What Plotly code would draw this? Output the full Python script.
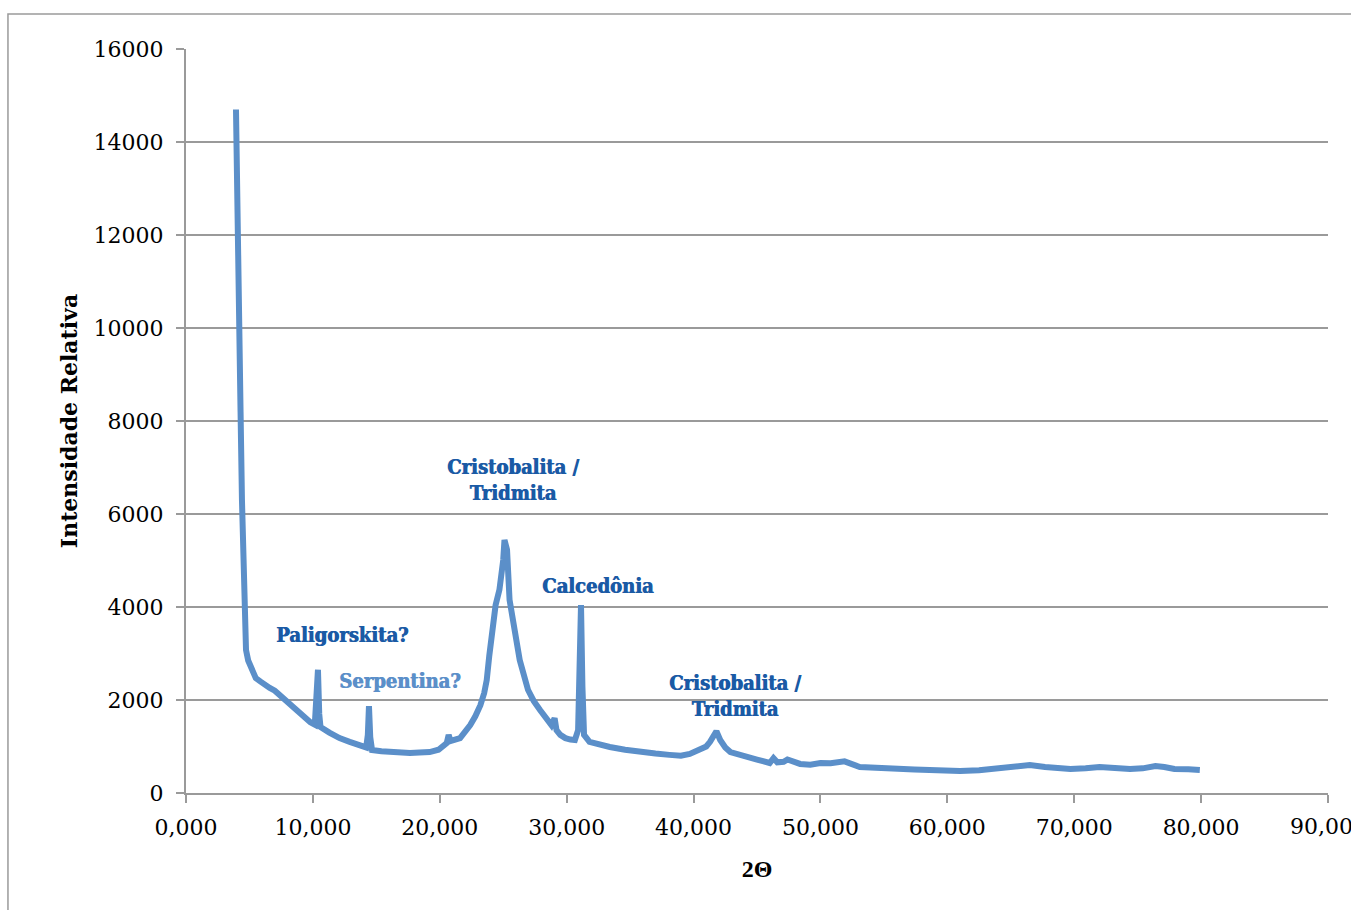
import plotly.graph_objects as go

# 2-theta positions and relative intensities
two_theta = [3.94, 4.05, 4.18, 4.30, 4.41, 4.55, 4.73, 4.90, 5.04, 5.30, 5.50, 5.85, 6.20, 6.60,
             7.00, 7.60, 8.20, 8.80, 9.40, 9.80, 10.15, 10.30, 10.40, 10.50, 10.60, 11.30,
             12.10, 12.90, 13.70, 14.20, 14.33, 14.42, 14.52, 14.66, 15.40, 16.10, 16.90,
             17.65, 18.40, 19.20, 19.90, 20.55, 20.70, 20.85, 21.60, 22.00, 22.40, 22.80,
             23.20, 23.50, 23.70, 23.90, 24.10, 24.40, 24.70, 24.90, 25.00, 25.10, 25.20,
             25.30, 25.50, 25.85, 26.30, 26.95, 27.40, 27.90, 28.40, 28.80, 29.05, 29.20,
             29.50, 29.90, 30.30, 30.65, 30.90, 31.02, 31.13, 31.24, 31.37, 31.80, 32.60,
             33.40, 34.60, 35.80, 37.00, 38.10, 39.00, 39.70, 40.50, 41.00, 41.30, 41.60,
             41.80, 42.10, 42.50, 42.90, 44.05, 45.00, 46.00, 46.30, 46.60, 47.10, 47.40,
             48.40, 49.20, 50.00, 50.80, 51.50, 51.90, 53.10, 54.60, 56.30, 57.40, 58.60,
             59.80, 61.00, 62.50, 64.15, 65.40, 66.50, 67.70, 68.70, 69.70, 70.90, 72.00,
             73.20, 74.40, 75.40, 76.40, 77.10, 77.90, 79.00, 79.90]
intensity = [14700, 13200, 10600, 8200, 6300, 4400, 3075, 2850, 2750, 2600, 2470, 2400, 2320, 2260,
             2200, 2050, 1890, 1750, 1610, 1520, 1470, 2000, 2650, 1700, 1420, 1300,
             1180, 1100, 1030, 980, 1250, 1870, 1200, 925, 900, 880, 870,
             860, 870, 880, 930, 1075, 1250, 1120, 1180, 1300, 1460, 1650,
             1890, 2150, 2430, 2950, 3500, 4040, 4370, 4750, 5010, 5440, 5350,
             5230, 4150, 3500, 2860, 2220, 1980, 1785, 1600, 1460, 1610, 1350,
             1250, 1180, 1150, 1140, 1350, 2500, 4040, 2300, 1250, 1100, 1040,
             990, 930, 880, 850, 820, 800, 840, 925, 1000, 1100, 1230,
             1330, 1140, 980, 880, 775, 720, 645, 750, 660, 670, 720,
             625, 610, 645, 640, 670, 680, 560, 530, 515, 505, 495,
             480, 475, 490, 540, 570, 600, 560, 530, 515, 530, 560,
             540, 515, 530, 580, 560, 515, 510, 495]

x_ticks = [0, 10, 20, 30, 40, 50, 60, 70, 80, 90]
x_ticklabels = ["0,000", "10,000", "20,000", "30,000", "40,000", "50,000", "60,000",
                "70,000", "80,000", ""]
edge_label = "90,000"   # clipped at the window edge in the reference
y_ticks = [0, 2000, 4000, 6000, 8000, 10000, 12000, 14000, 16000]

labels = ["Paligorskita?", "Serpentina?", "Cristobalita /<br>Tridmita", "Calcedônia",
          "Cristobalita /<br>Tridmita"]
label_x = [12.29, 16.86, 25.77, 32.47, 43.27]
label_y = [3398, 2409, 6731, 4452, 2086]
label_colors = ["#1a5aa5", "#5b8fc9", "#1a5aa5", "#1a5aa5", "#1a5aa5"]

fig = go.Figure()
fig.add_trace(go.Scatter(x=two_theta, y=intensity, mode="lines",
                         line=dict(color="#5b8fc9", width=6, shape="linear"),
                         showlegend=False, hoverinfo="skip"))

for t, lx, ly, c in zip(labels, label_x, label_y, label_colors):
    fig.add_annotation(x=lx, y=ly, text=t, showarrow=False, xref="x", yref="y",
                       font=dict(family="DejaVu Serif Condensed", size=20, color=c, weight="bold",
                                 shadow=f"0.8px 0px 0px {c}"),
                       align="center")

serif = "DejaVu Serif"
axis_font = dict(family=serif, size=22, color="#000000")
grey = "#9a9a9a"

fig.add_annotation(x=90, y=0, xref="x", yref="paper", text=edge_label, showarrow=False,
                   yanchor="top", yshift=-19, xanchor="center", font=axis_font)

fig.update_layout(
    width=1351, height=910,
    margin=dict(l=186, r=23, t=49, b=117),
    paper_bgcolor="white", plot_bgcolor="white",
    showlegend=False,
    xaxis=dict(range=[0, 90], tickvals=x_ticks, ticktext=x_ticklabels,
               showgrid=False, zeroline=False,
               showline=True, linecolor=grey, linewidth=2,
               ticks="outside", ticklen=8, tickwidth=2, tickcolor=grey,
               tickfont=axis_font, ticklabelstandoff=6,
               title=dict(text="<b>2Θ</b>", font=dict(family="Liberation Serif", size=24, color="#000"), standoff=21)),
    yaxis=dict(range=[0, 16000], tickvals=y_ticks, tickformat="d",
               showgrid=True, gridcolor=grey, gridwidth=1.5,
               zeroline=False,
               showline=True, linecolor=grey, linewidth=2,
               ticks="outside", ticklen=8, tickwidth=2, tickcolor=grey,
               tickfont=axis_font, ticklabelstandoff=8,
               title=dict(text="<b>Intensidade Relativa</b>", font=dict(family=serif, size=22, color="#000"), standoff=10)),
)

# outer chart-area border
fig.add_shape(type="rect", xref="paper", yref="paper",
              x0=-0.1559, x1=1.06, y0=-0.17, y1=1.047,
              line=dict(color=grey, width=1.5), fillcolor="rgba(0,0,0,0)", layer="below")

fig.write_html("out.html")
